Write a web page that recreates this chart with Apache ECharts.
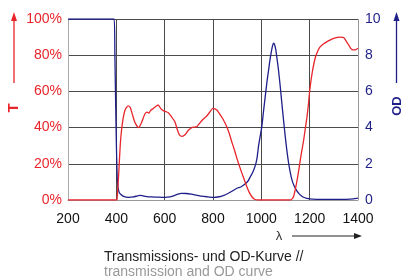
<!DOCTYPE html>
<html>
<head>
<meta charset="utf-8">
<script src="https://cdn.jsdelivr.net/npm/echarts@6/dist/echarts.min.js"></script>
<style>
html,body{margin:0;padding:0;background:#fff;}
#chart{width:401px;height:279px;}
</style>
</head>
<body>
<div id="chart"></div>
<script>
// Wavelength ticks (nm)
var xTicks = [200, 400, 600, 800, 1000, 1200, 1400];
var tTicks = ['0%', '20%', '40%', '60%', '80%', '100%'];
var odTicks = [0, 2, 4, 6, 8, 10];

// Transmission curve T (%), [wavelength, value]
var transmission = [
  [200,0],[400,0],[403,0.5],[410,15],[416,30],[421,38],[428,45],[437,50],[449,52],[458,51],
  [467,47],[478,42.5],[492,40],[505,43],[518,47.5],[528,48.5],[535,48],[542,49.5],[553,50.6],
  [562,51.5],[573,52.5],[584,50.5],[594,49.4],[606,48.8],[615,48.2],[628,46],[643,43],
  [652,39],[661,36],[672,35.2],[684,36],[698,38.5],[712,40],[725,40.3],[733,40.5],[745,42.5],
  [758,44.5],[774,46.4],[788,48.8],[799,50.6],[808,50.4],[816,49.7],[828,47.5],[840,45],
  [857,40.5],[868,36.5],[878,32],[889,27.5],[899,23],[910,18.5],[920,14.7],[930,11],
  [940,7.3],[950,4.2],[961,1.8],[972,0.4],[985,0],[1120,0],[1127,0.6],[1133,1.8],
  [1140,5.5],[1148,11],[1155,16.5],[1161,22],[1168,27.5],[1175,33],[1182,39.5],[1189,46],
  [1195,53],[1199,59],[1205,65.5],[1210,70],[1217,75],[1224,79],[1234,82.5],[1244,84.7],
  [1258,86.3],[1272,87.5],[1286,88.5],[1300,89.3],[1314,89.8],[1327,90],[1338,89.8],
  [1344,89.3],[1352,87.5],[1362,85.6],[1370,83.8],[1380,82.9],[1390,83],[1400,83.8]
];

// Optical density curve OD, [wavelength, value]
var opticalDensity = [
  [200,10],[391,10],[394,8],[397,5.5],[400,3.2],[403,1.5],[406,0.8],[411,0.45],[419,0.3],
  [430,0.2],[450,0.15],[470,0.17],[485,0.22],[497,0.26],[510,0.23],[525,0.19],[545,0.17],
  [570,0.16],[590,0.15],[610,0.16],[630,0.2],[650,0.3],[670,0.37],[690,0.36],[710,0.32],
  [730,0.27],[750,0.22],[775,0.18],[801,0.15],[825,0.18],[845,0.26],[862,0.36],[880,0.5],
  [899,0.65],[915,0.72],[930,0.85],[945,1.05],[955,1.3],[965,1.55],[975,1.9],[982,2.3],
  [988,2.94],[995,3.5],[1002,4.05],[1009,4.9],[1016,5.7],[1023,6.5],[1030,7.18],[1037,7.85],
  [1044,8.38],[1048,8.6],[1051,8.66],[1055,8.58],[1060,8.3],[1065,7.8],[1071,7.18],
  [1078,6.3],[1085,5.34],[1092,4.4],[1099,3.5],[1106,2.7],[1113,2.03],[1120,1.5],
  [1127,1.1],[1135,0.8],[1145,0.55],[1155,0.37],[1165,0.24],[1175,0.15],[1188,0.09],
  [1200,0.06],[1230,0.04],[1270,0.03],[1310,0.03],[1350,0.04],[1380,0.06],[1400,0.1]
];

var RED = '#e8252b';
var NAVY = '#1f1f8a';
var FONT = 'Liberation Sans, Arial, sans-serif';
var GRID = '#4a4a4a';

var chart = echarts.init(document.getElementById('chart'), null, {renderer: 'canvas'});
chart.setOption({
  animation: false,
  backgroundColor: '#fff',
  grid: {left: 68, right: 43, top: 19, bottom: 79, containLabel: false},
  xAxis: {
    type: 'value', min: xTicks[0], max: xTicks[xTicks.length - 1], interval: 200,
    axisLine: {show: true, lineStyle: {color: '#999', width: 1}},
    axisTick: {show: false},
    axisLabel: {color: '#111', fontSize: 14, fontFamily: FONT, margin: 12,
      formatter: function (v) { return String(xTicks[Math.round((v - 200) / 200)]); }},
    splitLine: {show: true, lineStyle: {color: ['#aaa', GRID, GRID, GRID, GRID, GRID, '#999'], width: 1}}
  },
  yAxis: [
    {
      type: 'value', min: 0, max: 100, interval: 20, position: 'left',
      axisLine: {show: false}, axisTick: {show: false},
      axisLabel: {color: RED, fontSize: 14, fontFamily: FONT, margin: 6,
        formatter: function (v) { return tTicks[Math.round(v / 20)]; }},
      splitLine: {show: true, lineStyle: {color: ['#999', GRID, GRID, GRID, GRID, GRID], width: 1}}
    },
    {
      type: 'value', min: 0, max: 10, interval: 2, position: 'right',
      axisLine: {show: false}, axisTick: {show: false},
      axisLabel: {color: NAVY, fontSize: 14, fontFamily: FONT, margin: 7,
        formatter: function (v) { return String(odTicks[Math.round(v / 2)]); }},
      splitLine: {show: false}
    }
  ],
  series: [
    {
      type: 'line', yAxisIndex: 1, data: opticalDensity, showSymbol: false,
      smooth: 0.2, lineStyle: {color: NAVY, width: 1.3}, z: 3
    },
    {
      type: 'line', yAxisIndex: 0, data: transmission, showSymbol: false,
      smooth: 0.2, lineStyle: {color: RED, width: 1.3}, z: 4
    }
  ],
  graphic: [
    // T arrow
    {type: 'line', shape: {x1: 14, y1: 83, x2: 14, y2: 19}, style: {stroke: RED, lineWidth: 1.3}},
    {type: 'polygon', shape: {points: [[14, 12], [11, 21], [17, 21]]}, style: {fill: RED}},
    {type: 'text', x: 14, y: 108, rotation: Math.PI / 2,
      style: {text: 'T', fill: RED, font: 'bold 15px ' + FONT, align: 'center', verticalAlign: 'middle'}},
    // OD arrow
    {type: 'line', shape: {x1: 396.5, y1: 83, x2: 396.5, y2: 19}, style: {stroke: NAVY, lineWidth: 1.3}},
    {type: 'polygon', shape: {points: [[396.5, 12], [393.5, 21], [399.5, 21]]}, style: {fill: NAVY}},
    {type: 'text', x: 397, y: 106, rotation: Math.PI / 2,
      style: {text: 'OD', fill: NAVY, font: 'bold 13px ' + FONT, align: 'center', verticalAlign: 'middle'}},
    // lambda arrow
    {type: 'text', x: 279, y: 236,
      style: {text: 'λ', fill: '#333', font: '13px ' + FONT, align: 'center', verticalAlign: 'middle'}},
    {type: 'line', shape: {x1: 292, y1: 236, x2: 355, y2: 236}, style: {stroke: '#222', lineWidth: 1}},
    {type: 'polygon', shape: {points: [[362, 236], [354, 233], [354, 239]]}, style: {fill: '#222'}},
    // captions
    {type: 'text', x: 104, y: 257,
      style: {text: 'Transmissions- und OD-Kurve //', fill: '#222', font: '14px ' + FONT, align: 'left', verticalAlign: 'middle'}},
    {type: 'text', x: 104, y: 272,
      style: {text: 'transmission and OD curve', fill: '#999', font: '14px ' + FONT, align: 'left', verticalAlign: 'middle'}}
  ]
});
</script>
</body>
</html>
